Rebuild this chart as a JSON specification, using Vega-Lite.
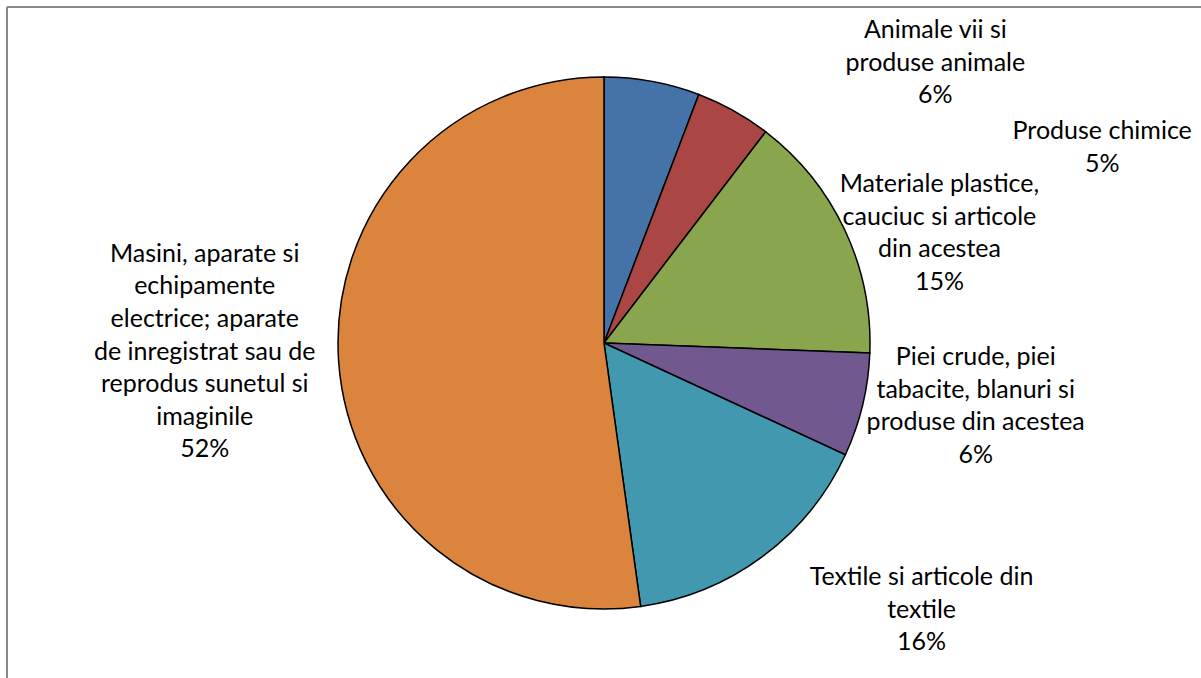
{
  "$schema": "https://vega.github.io/schema/vega-lite/v6.json",
  "width": 1194,
  "height": 672,
  "autosize": {"type": "none"},
  "padding": {"left": 7, "top": 7, "right": 0, "bottom": 0},
  "background": "white",
  "config": {
    "view": {"stroke": null},
    "text": {"font": "Lato", "fontSize": 25, "color": "#000000"}
  },
  "data": {
    "values": [
      {"idx": 1, "cat": "Animale vii si produse animale", "value": 5.8, "label": "Animale vii si\nproduse animale\n6%"},
      {"idx": 2, "cat": "Produse chimice", "value": 4.6, "label": "Produse chimice\n5%"},
      {"idx": 3, "cat": "Materiale plastice, cauciuc si articole din acestea", "value": 15.2, "label": "Materiale plastice,\ncauciuc si articole\ndin acestea\n15%"},
      {"idx": 4, "cat": "Piei crude, piei tabacite, blanuri si produse din acestea", "value": 6.3, "label": "Piei crude, piei\ntabacite, blanuri si\nproduse din acestea\n6%"},
      {"idx": 5, "cat": "Textile si articole din textile", "value": 15.9, "label": "Textile si articole din\ntextile\n16%"},
      {"idx": 6, "cat": "Masini, aparate si echipamente electrice; aparate de inregistrat sau de reprodus sunetul si imaginile", "value": 52.2, "label": "Masini, aparate si\nechipamente\nelectrice; aparate\nde inregistrat sau de\nreprodus sunetul si\nimaginile\n52%"}
    ]
  },
  "layer": [
    {
      "mark": {"type": "rule", "stroke": "#888888", "strokeWidth": 2},
      "encoding": {"y": {"value": 0}}
    },
    {
      "mark": {"type": "rule", "stroke": "#888888", "strokeWidth": 2},
      "encoding": {"x": {"value": 0}}
    },
    {
      "encoding": {
        "theta": {"field": "value", "type": "quantitative", "stack": true},
        "order": {"field": "idx", "type": "quantitative"}
      },
      "layer": [
        {
          "mark": {"type": "arc", "outerRadius": 266, "stroke": "#000000", "strokeWidth": 1.5},
          "encoding": {
            "color": {
              "field": "cat",
              "type": "nominal",
              "legend": null,
              "sort": null,
              "scale": {
                "domain": [
                  "Animale vii si produse animale",
                  "Produse chimice",
                  "Materiale plastice, cauciuc si articole din acestea",
                  "Piei crude, piei tabacite, blanuri si produse din acestea",
                  "Textile si articole din textile",
                  "Masini, aparate si echipamente electrice; aparate de inregistrat sau de reprodus sunetul si imaginile"
                ],
                "range": ["#4572A7", "#AA4643", "#89A54E", "#71588F", "#4198AF", "#DB843D"]
              }
            }
          }
        },
        {
          "mark": {"type": "text", "radius": 300, "dx": 277, "dy": -18, "lineBreak": "\n", "lineHeight": 32.6, "align": "center", "baseline": "middle"},
          "encoding": {"text": {"condition": {"test": "datum.idx == 1", "field": "label"}, "value": ""}}
        },
        {
          "mark": {"type": "text", "radius": 300, "dx": 352, "dy": 50, "lineBreak": "\n", "lineHeight": 32.6, "align": "center", "baseline": "middle"},
          "encoding": {"text": {"condition": {"test": "datum.idx == 2", "field": "label"}, "value": ""}}
        },
        {
          "mark": {"type": "text", "radius": 300, "dx": 64, "dy": -31, "lineBreak": "\n", "lineHeight": 32.6, "align": "center", "baseline": "middle"},
          "encoding": {"text": {"condition": {"test": "datum.idx == 3", "field": "label"}, "value": ""}}
        },
        {
          "mark": {"type": "text", "radius": 300, "dx": 80, "dy": -56, "lineBreak": "\n", "lineHeight": 32.6, "align": "center", "baseline": "middle"},
          "encoding": {"text": {"condition": {"test": "datum.idx == 4", "field": "label"}, "value": ""}}
        },
        {
          "mark": {"type": "text", "radius": 300, "dx": 139, "dy": -7, "lineBreak": "\n", "lineHeight": 32.6, "align": "center", "baseline": "middle"},
          "encoding": {"text": {"condition": {"test": "datum.idx == 5", "field": "label"}, "value": ""}}
        },
        {
          "mark": {"type": "text", "radius": 300, "dx": -100, "dy": -110, "lineBreak": "\n", "lineHeight": 32.6, "align": "center", "baseline": "middle"},
          "encoding": {"text": {"condition": {"test": "datum.idx == 6", "field": "label"}, "value": ""}}
        }
      ]
    }
  ]
}
